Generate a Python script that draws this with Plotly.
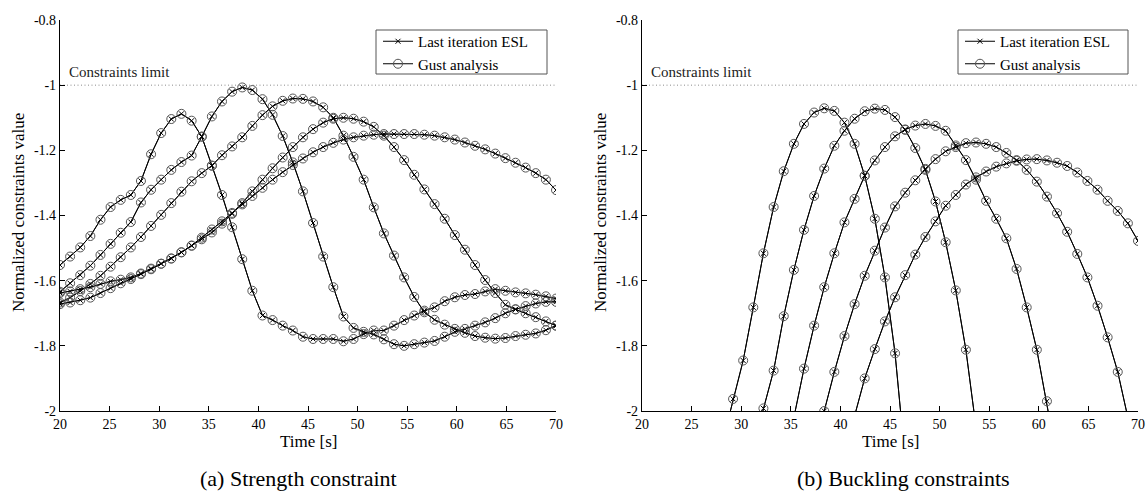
import plotly.graph_objects as go

# ---------------- data ----------------
# 50 time samples between 20 s and 70 s
time_s = [20.00, 21.02, 22.04, 23.06, 24.08, 25.10, 26.12, 27.14, 28.16, 29.18,
          30.20, 31.22, 32.24, 33.27, 34.29, 35.31, 36.33, 37.35, 38.37, 39.39,
          40.41, 41.43, 42.45, 43.47, 44.49, 45.51, 46.53, 47.55, 48.57, 49.59,
          50.61, 51.63, 52.65, 53.67, 54.69, 55.71, 56.73, 57.76, 58.78, 59.80,
          60.82, 61.84, 62.86, 63.88, 64.90, 65.92, 66.94, 67.96, 68.98, 70.00]

# (a) Strength constraint – five gust cases
strength_1 = [-1.552, -1.526, -1.498, -1.463, -1.413, -1.374, -1.352, -1.337, -1.294, -1.212,
              -1.147, -1.104, -1.088, -1.109, -1.158, -1.247, -1.337, -1.436, -1.534, -1.631,
              -1.707, -1.721, -1.738, -1.753, -1.772, -1.779, -1.779, -1.779, -1.786, -1.779,
              -1.764, -1.753, -1.753, -1.738, -1.721, -1.707, -1.692, -1.682, -1.663, -1.651,
              -1.644, -1.641, -1.633, -1.626, -1.631, -1.636, -1.639, -1.643, -1.648, -1.655]
strength_2 = [-1.634, -1.608, -1.583, -1.554, -1.521, -1.487, -1.453, -1.42, -1.36, -1.321,
              -1.29, -1.26, -1.236, -1.216, -1.158, -1.096, -1.05, -1.02, -1.007, -1.015,
              -1.043, -1.091, -1.156, -1.237, -1.326, -1.423, -1.526, -1.62, -1.71, -1.745,
              -1.757, -1.765, -1.78, -1.795, -1.8, -1.795, -1.79, -1.785, -1.772, -1.757,
              -1.748, -1.738, -1.728, -1.715, -1.7, -1.688, -1.678, -1.67, -1.665, -1.665]
strength_3 = [-1.667, -1.652, -1.632, -1.61, -1.585, -1.557, -1.528, -1.498, -1.466, -1.432,
              -1.398, -1.362, -1.327, -1.295, -1.27, -1.247, -1.215, -1.188, -1.16, -1.125,
              -1.092, -1.065, -1.048, -1.041, -1.042, -1.05, -1.068, -1.1, -1.155, -1.22,
              -1.29, -1.375, -1.455, -1.523, -1.59, -1.65, -1.697, -1.72, -1.735, -1.748,
              -1.76, -1.77, -1.775, -1.778, -1.776, -1.77, -1.766, -1.762, -1.752, -1.738]
strength_4 = [-1.638, -1.633, -1.626, -1.62, -1.61, -1.602, -1.597, -1.59, -1.578, -1.563,
              -1.548, -1.532, -1.513, -1.493, -1.473, -1.452, -1.425, -1.395, -1.362, -1.326,
              -1.29, -1.255, -1.222, -1.19, -1.16, -1.135, -1.115, -1.103, -1.1, -1.103,
              -1.112, -1.128, -1.155, -1.19, -1.23, -1.275, -1.32, -1.365, -1.41, -1.46,
              -1.505, -1.552, -1.598, -1.638, -1.674, -1.688, -1.7, -1.712, -1.725, -1.738]
strength_5 = [-1.672, -1.667, -1.66, -1.652, -1.638, -1.623, -1.608, -1.595, -1.58, -1.565,
              -1.548, -1.532, -1.513, -1.492, -1.468, -1.443, -1.418, -1.392, -1.366, -1.34,
              -1.315, -1.29, -1.267, -1.245, -1.225, -1.206, -1.19, -1.177, -1.167, -1.16,
              -1.155, -1.152, -1.15, -1.15, -1.15, -1.15, -1.152, -1.155, -1.16, -1.167,
              -1.176, -1.186, -1.197, -1.21, -1.224, -1.238, -1.253, -1.27, -1.29, -1.322]

# (b) Buckling constraints – first sample index on the time grid, then the values
# (values below -2 leave the frame)
buckling_1_start = 8
buckling_1 = [-2.09, -1.963, -1.845, -1.682, -1.516, -1.374, -1.264, -1.18, -1.119, -1.084,
              -1.071, -1.079, -1.115, -1.18, -1.278, -1.41, -1.59, -1.823, -2.15]
buckling_2_start = 11
buckling_2 = [-2.11, -1.992, -1.876, -1.709, -1.567, -1.444, -1.34, -1.256, -1.186, -1.14,
              -1.103, -1.08, -1.072, -1.076, -1.098, -1.137, -1.193, -1.26, -1.357, -1.482,
              -1.63, -1.812, -2.05]
buckling_3_start = 15
buckling_3 = [-2.02, -1.87, -1.738, -1.62, -1.516, -1.421, -1.349, -1.278, -1.231, -1.19,
              -1.157, -1.136, -1.124, -1.119, -1.125, -1.14, -1.185, -1.23, -1.29, -1.355,
              -1.41, -1.47, -1.564, -1.682, -1.812, -1.97, -2.15]
buckling_4_start = 18
buckling_4 = [-2.0, -1.88, -1.77, -1.672, -1.585, -1.508, -1.437, -1.372, -1.33, -1.292,
              -1.257, -1.227, -1.203, -1.19, -1.178, -1.176, -1.18, -1.19, -1.208, -1.23,
              -1.26, -1.296, -1.342, -1.393, -1.45, -1.518, -1.59, -1.677, -1.774, -1.88,
              -2.02]
buckling_5_start = 21
buckling_5 = [-2.015, -1.9, -1.81, -1.725, -1.651, -1.583, -1.52, -1.466, -1.418, -1.37,
              -1.337, -1.305, -1.283, -1.265, -1.25, -1.24, -1.232, -1.228, -1.227, -1.231,
              -1.238, -1.248, -1.268, -1.294, -1.321, -1.355, -1.386, -1.424, -1.478]

constraint_limit = -1.0
x_ticks = [20, 25, 30, 35, 40, 45, 50, 55, 60, 65, 70]
y_ticks = [-2.0, -1.8, -1.6, -1.4, -1.2, -1.0, -0.8]
y_tick_text = ["-2", "-1.8", "-1.6", "-1.4", "-1.2", "-1", "-0.8"]
esl_name = "Last iteration ESL"
gust_name = "Gust analysis"
limit_label = "Constraints limit"
x_title = "Time [s]"
y_title = "Normalized constraints value"
captions = ["(a) Strength constraint", "(b) Buckling constraints"]

# ---------------- figure ----------------
FONT = "Liberation Serif"
W, H = 1148, 501


def px(x):
    return x / W


def py(y):
    return 1 - y / H


fig = go.Figure()

buckling_curves = []
for start, vals in [(buckling_1_start, buckling_1), (buckling_2_start, buckling_2),
                    (buckling_3_start, buckling_3), (buckling_4_start, buckling_4),
                    (buckling_5_start, buckling_5)]:
    buckling_curves.append((time_s[start:start + len(vals)], vals))

panels = [
    ("x", "y", "legend", [(time_s, strength_1), (time_s, strength_2), (time_s, strength_3),
                          (time_s, strength_4), (time_s, strength_5)]),
    ("x2", "y2", "legend2", buckling_curves),
]

for xa, ya, leg, curves in panels:
    fig.add_trace(go.Scatter(x=[x_ticks[0], x_ticks[-1]], y=[constraint_limit, constraint_limit],
                             mode="lines", line=dict(color="#8a8a8a", width=1, dash="1px,2.5px"),
                             xaxis=xa, yaxis=ya, showlegend=False, hoverinfo="skip"))
    for i, (tt, vv) in enumerate(curves):
        fig.add_trace(go.Scatter(
            x=tt, y=vv, mode="lines+markers", name=esl_name, legend=leg,
            showlegend=(i == 0), legendrank=1,
            line=dict(color="black", width=1),
            marker=dict(symbol="x-thin-open", size=5, color="black",
                        line=dict(color="#222222", width=1)),
            xaxis=xa, yaxis=ya))
    for i, (tt, vv) in enumerate(curves):
        fig.add_trace(go.Scatter(
            x=tt, y=vv, mode="lines+markers", name=gust_name, legend=leg,
            showlegend=(i == 0), legendrank=2,
            line=dict(color="black", width=1),
            marker=dict(symbol="circle-open", size=9, color="#555555",
                        line=dict(color="#555555", width=1)),
            xaxis=xa, yaxis=ya))

x_left = (px(60), px(556))
x_right = (px(642), px(1138))
y_dom = (py(411), py(20))

axis_common = dict(showline=True, linecolor="black", linewidth=1.3, ticks="inside",
                   ticklen=5, tickwidth=1, tickcolor="black", showgrid=False, zeroline=False,
                   mirror=False, automargin=False,
                   tickfont=dict(family=FONT, size=14, color="black"))

legend_common = dict(xanchor="left", yanchor="top", bgcolor="rgba(0,0,0,0)",
                     borderwidth=0, font=dict(family=FONT, size=15, color="black"),
                     tracegroupgap=0, itemwidth=30)

fig.update_layout(
    template="none",
    width=W, height=H, margin=dict(l=0, r=0, t=0, b=0, autoexpand=False),
    paper_bgcolor="white", plot_bgcolor="white",
    font=dict(family=FONT, color="black"),
    xaxis=dict(domain=x_left, range=[20, 70], tickvals=x_ticks, anchor="y", **axis_common),
    yaxis=dict(domain=y_dom, range=[-2, -0.8], tickvals=y_ticks, ticktext=y_tick_text,
               anchor="x", **axis_common),
    xaxis2=dict(domain=x_right, range=[20, 70], tickvals=x_ticks, anchor="y2", **axis_common),
    yaxis2=dict(domain=y_dom, range=[-2, -0.8], tickvals=y_ticks, ticktext=y_tick_text,
                anchor="x2", **axis_common),
    legend=dict(x=px(378), y=py(25), **legend_common),
    legend2=dict(x=px(960), y=py(25), **legend_common),
    showlegend=True,
)

# legend frames
for x0, x1 in [(376, 547), (958, 1128)]:
    fig.add_shape(type="rect", xref="paper", yref="paper", x0=px(x0), x1=px(x1),
                  y0=py(74), y1=py(30), line=dict(color="#555555", width=1),
                  fillcolor="white", layer="above")

for xa, ya, cx in [("x", "y", (60 + 556) / 2), ("x2", "y2", (642 + 1138) / 2)]:
    fig.add_annotation(x=20.7, y=constraint_limit, xref=xa, yref=ya, text=limit_label,
                       showarrow=False, xanchor="left", yanchor="bottom", yshift=3,
                       font=dict(family=FONT, size=15, color="#222222"))
    fig.add_annotation(x=px(cx), y=py(441), xref="paper", yref="paper", text=x_title,
                       showarrow=False, xanchor="center", yanchor="middle",
                       font=dict(family=FONT, size=17, color="black"))

for xpos in [18, 600]:
    fig.add_annotation(x=px(xpos), y=py(213), xref="paper", yref="paper", text=y_title,
                       showarrow=False, textangle=-90, xanchor="center", yanchor="middle",
                       font=dict(family=FONT, size=17, color="black"))

for cx, cap in zip([298, 903], captions):
    fig.add_annotation(x=px(cx), y=py(478), xref="paper", yref="paper", text=cap,
                       showarrow=False, xanchor="center", yanchor="middle",
                       font=dict(family=FONT, size=22, color="black"))

fig.write_html(
    "out.html",
    config={"displayModeBar": False},
    post_script="document.body.style.margin='0px';"
                "document.body.style.overflow='hidden';"
                "document.documentElement.style.overflow='hidden';",
)
